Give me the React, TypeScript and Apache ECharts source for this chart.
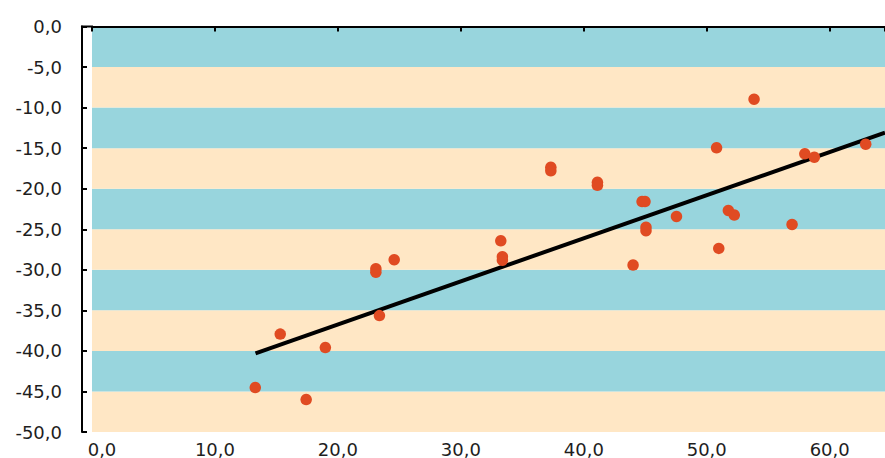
import React, { useEffect, useRef } from "react";
import * as echarts from "echarts";

const pointsX = [
  13.28, 15.31, 17.42, 18.98, 23.09, 23.09, 23.38, 24.58, 33.25, 33.38, 33.38,
  37.32, 37.32, 41.11, 41.11, 44.01, 44.74, 44.98, 45.06, 45.06, 47.54, 50.8,
  50.98, 51.76, 52.24, 53.85, 56.94, 57.98, 58.75, 62.93,
];
const pointsY = [
  -44.52, -37.93, -46.0, -39.59, -29.86, -30.3, -35.65, -28.76, -26.42, -28.39,
  -28.82, -17.36, -17.8, -19.21, -19.58, -29.41, -21.58, -21.58, -24.75, -25.18,
  -23.42, -14.96, -27.36, -22.68, -23.25, -8.97, -24.41, -15.7, -16.11, -14.51,
];
const trendX = [13.3, 64.5];
const trendY = [-40.3, -13.1];

const X_MIN = 0;
const X_MAX = 64.5;
const X_STEP = 10;
const Y_MIN = -50;
const Y_MAX = 0;
const Y_STEP = 5;

const FONT = "DejaVu Sans";
const TEXT = "#1e1e1e";
const TEAL = "#98D5DD";
const PEACH = "#FFE7C5";
const DOT = "#E04B22";

const fmt = (v: number) => v.toFixed(1).replace(".", ",");

export default function App() {
  const ref = useRef<HTMLDivElement>(null);
  useEffect(() => {
    const chart = echarts.init(ref.current!, null, { renderer: "svg" });
    chart.setOption({
      animation: false,
      backgroundColor: "#fff",
      grid: { left: 92, right: 0, top: 26.5, bottom: 25.5 },
      xAxis: [
        {
          type: "value",
          position: "bottom",
          min: X_MIN,
          max: X_MAX,
          interval: X_STEP,
          axisLine: { show: false, onZero: false },
          axisTick: { show: false },
          splitLine: { show: false },
          axisLabel: {
            margin: 8,
            fontSize: 18,
            fontFamily: FONT,
            color: TEXT,
            showMaxLabel: false,
            formatter: (v: number) =>
              v % X_STEP === 0 ? (v === 0 ? "{z|" + fmt(v) + "}" : fmt(v)) : "",
            rich: {
              z: { padding: [0, 0, 0, 20], fontSize: 18, fontFamily: FONT, color: TEXT },
            },
          },
        },
        {
          type: "value",
          position: "top",
          min: X_MIN,
          max: X_MAX,
          interval: X_STEP,
          axisLine: { show: true, onZero: false, lineStyle: { color: "#000", width: 2 } },
          axisTick: { show: true, inside: true, length: 5, lineStyle: { color: "#000", width: 2 } },
          axisLabel: { show: false },
          splitLine: { show: false },
        },
      ],
      yAxis: {
        type: "value",
        min: Y_MIN,
        max: Y_MAX,
        interval: Y_STEP,
        offset: 10,
        axisLine: { show: true, onZero: false, lineStyle: { color: "#000", width: 2 } },
        axisTick: { show: true, inside: true, length: 5, lineStyle: { color: "#000", width: 2 } },
        axisLabel: {
          margin: 20,
          fontSize: 18,
          fontFamily: FONT,
          color: TEXT,
          padding: [0, 0, 8, 0],
          formatter: (v: number) => fmt(v),
        },
        splitLine: { show: false },
        splitArea: { show: true, areaStyle: { color: [PEACH, TEAL] } },
      },
      graphic: [
        {
          type: "line",
          shape: { x1: 81, y1: 26.5, x2: 93, y2: 26.5 },
          style: { stroke: "#000", lineWidth: 2 },
          z: 10,
        },
      ],
      series: [
        {
          type: "line",
          xAxisIndex: 0,
          data: trendX.map((x, i) => [x, trendY[i]]),
          symbol: "none",
          lineStyle: { color: "#000", width: 4 },
          z: 2,
        },
        {
          type: "scatter",
          xAxisIndex: 0,
          data: pointsX.map((x, i) => [x, pointsY[i]]),
          symbolSize: 11.5,
          itemStyle: { color: DOT, opacity: 1 },
          z: 3,
        },
      ],
    });
    return () => chart.dispose();
  }, []);
  return (
    <div
      ref={ref}
      style={{ position: "fixed", left: 0, top: 0, width: 885, height: 458, background: "#fff" }}
    />
  );
}
